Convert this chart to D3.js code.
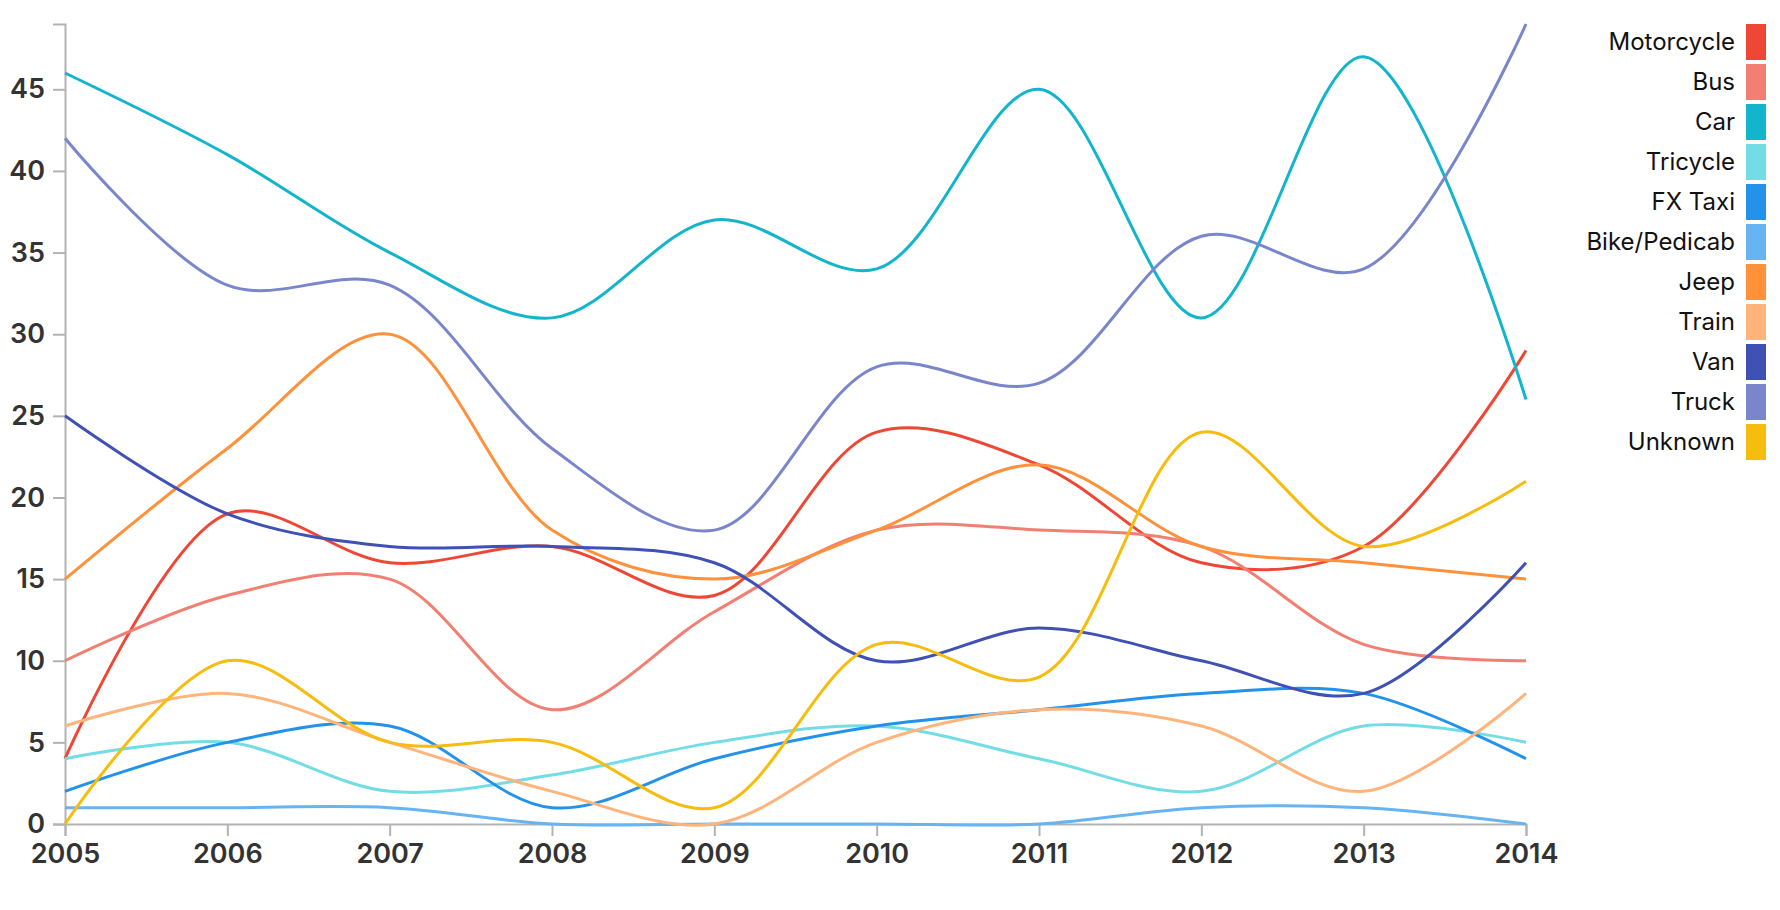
<!DOCTYPE html>
<html>
<head>
<meta charset="utf-8">
<script src="https://cdn.jsdelivr.net/npm/d3@7"></script>
<style>
    html, body { margin: 0; padding: 0; background: #fff; }
    .axis path, .axis line { stroke: #b3b3b3; stroke-width: 2; }
    .axis text { font-family: Inter, "Noto Sans", sans-serif; font-size: 27px; font-weight: 600; fill: #333; }
    .legend text { font-family: Inter, "Noto Sans", sans-serif; font-size: 24px; fill: #111; }
</style>
</head>
<body>
<div id="chart"></div>
<script>
const years = [2005, 2006, 2007, 2008, 2009, 2010, 2011, 2012, 2013, 2014];
const yTicks = [0, 5, 10, 15, 20, 25, 30, 35, 40, 45];

const categories = ['Motorcycle', 'Bus', 'Car', 'Tricycle', 'FX Taxi', 'Bike/Pedicab',
    'Jeep', 'Train', 'Van', 'Truck', 'Unknown'];

const colors = ['#ef4735', '#f37f73', '#12b5cb', '#73dde6', '#2392ea', '#67b4f2',
    '#ff913a', '#ffb47c', '#3f51b5', '#7986cb', '#f6bc0e'];

const motorcycle = [4, 19, 16, 17, 14, 24, 22, 16, 17, 29];
const bus        = [10, 14, 15, 7, 13, 18, 18, 17, 11, 10];
const car        = [46, 41, 35, 31, 37, 34, 45, 31, 47, 26];
const tricycle   = [4, 5, 2, 3, 5, 6, 4, 2, 6, 5];
const fxTaxi     = [2, 5, 6, 1, 4, 6, 7, 8, 8, 4];
const bike       = [1, 1, 1, 0, 0, 0, 0, 1, 1, 0];
const jeep       = [15, 23, 30, 18, 15, 18, 22, 17, 16, 15];
const train      = [6, 8, 5, 2, 0, 5, 7, 6, 2, 8];
const van        = [25, 19, 17, 17, 16, 10, 12, 10, 8, 16];
const truck      = [42, 33, 33, 23, 18, 28, 27, 36, 34, 49];
const unknown    = [0, 10, 5, 5, 1, 11, 9, 24, 17, 21];

const seriesValues = [motorcycle, bus, car, tricycle, fxTaxi, bike, jeep, train, van, truck, unknown];

const series = categories.map((name, i) => ({
    name,
    color: colors[i],
    values: years.map((year, j) => ({ year, value: seriesValues[i][j] }))
}));

const width = 1780;
const height = 910;
const margin = { top: 24, right: 254, bottom: 86, left: 65 };
const innerW = width - margin.left - margin.right;
const innerH = height - margin.top - margin.bottom;

const svg = d3.select('#chart')
    .append('svg')
    .attr('width', width)
    .attr('height', height);

const g = svg.append('g')
    .attr('transform', `translate(${margin.left}, ${margin.top})`);

const x = d3.scaleLinear()
    .domain(d3.extent(years))
    .range([0, innerW]);

const y = d3.scaleLinear()
    .domain([0, d3.max(seriesValues.flat())])
    .range([innerH, 0]);

g.append('g')
    .attr('class', 'axis')
    .call(d3.axisLeft(y)
        .tickValues(yTicks)
        .tickSize(12)
        .tickPadding(8));

g.append('g')
    .attr('class', 'axis')
    .attr('transform', `translate(0, ${innerH})`)
    .call(d3.axisBottom(x)
        .tickValues(years)
        .tickFormat(d3.format('d'))
        .tickSize(12)
        .tickPadding(8));

const line = d3.line()
    .x(d => x(d.year))
    .y(d => y(d.value))
    .curve(d3.curveCatmullRom);

g.selectAll('.series')
    .data(series)
    .enter()
    .append('path')
    .attr('class', 'series')
    .attr('fill', 'none')
    .attr('stroke', d => d.color)
    .attr('stroke-width', 3)
    .attr('d', d => line(d.values));

// legend on the right
const legend = svg.append('g')
    .attr('class', 'legend')
    .attr('transform', 'translate(1746, 24)');

const item = legend.selectAll('g')
    .data(series)
    .enter()
    .append('g')
    .attr('transform', (d, i) => `translate(0, ${i * 40})`);

item.append('rect')
    .attr('width', 20)
    .attr('height', 36)
    .attr('fill', d => d.color);

item.append('text')
    .attr('x', -11)
    .attr('y', 18)
    .attr('dy', '0.35em')
    .attr('text-anchor', 'end')
    .text(d => d.name);
</script>
</body>
</html>
